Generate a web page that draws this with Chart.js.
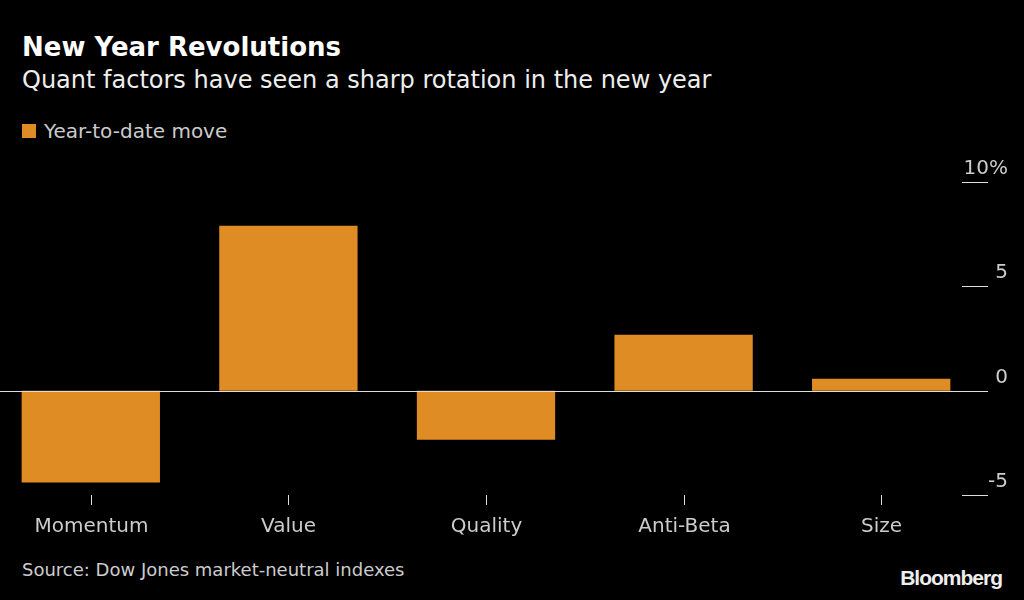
<!DOCTYPE html>
<html><head><meta charset="utf-8">
<script src="https://cdn.jsdelivr.net/npm/chart.js@4"></script>
<style>
body{margin:0;background:#000;width:1024px;height:600px;overflow:hidden;position:relative;font-family:"DejaVu Sans",sans-serif;color:#ddd}
.t{position:absolute;left:22px;white-space:nowrap}
#wrap{position:absolute;left:-8px;top:150px;width:1030px;height:400px}
</style></head><body>
<div class="t" style="top:32px;font-size:26px;font-weight:bold;color:#fff">New Year Revolutions</div>
<div class="t" style="top:66px;font-size:24px;color:#eee">Quant factors have seen a sharp rotation in the new year</div>
<div class="t" style="top:119px;font-size:20px;color:#ccc"><span style="display:inline-block;width:14px;height:14px;background:#e08c25;margin-right:8px"></span>Year-to-date move</div>
<div class="t" style="top:559px;font-size:18px;color:#ccc">Source: Dow Jones market-neutral indexes</div>
<div class="t" style="left:auto;right:22px;top:566px;font-size:21px;font-weight:bold;color:#eee;font-family:'Liberation Sans',sans-serif;letter-spacing:-1px">Bloomberg</div>
<div id="wrap"><canvas id="c"></canvas></div>
<script>
const categories = ['Momentum', 'Value', 'Quality', 'Anti-Beta', 'Size'];
const ytdMove = [-4.4, 7.9, -2.35, 2.68, 0.57];
const yTicks = [10, 5, 0, -5];
const yTickLabels = ['10%', '5', '0', '-5'];

// axis ticks and labels drawn by hand, Bloomberg style
const axisDraw = {
    id: 'axisDraw',
    afterDatasetsDraw(chart) {
        const ctx = chart.ctx, y = chart.scales.y, x = chart.scales.x, a = chart.chartArea;
        ctx.save();
        ctx.strokeStyle = '#ddd';
        ctx.lineWidth = 1;
        const zy = Math.round(y.getPixelForValue(0)) + 0.5;
        ctx.beginPath(); ctx.moveTo(a.left, zy); ctx.lineTo(a.right + 8, zy); ctx.stroke();
        ctx.font = '20px "DejaVu Sans"';
        ctx.fillStyle = '#ccc';
        ctx.textAlign = 'right';
        ctx.textBaseline = 'bottom';
        yTicks.forEach((v, i) => {
            const py = Math.round(y.getPixelForValue(v)) + 0.5;
            if (v !== 0) { ctx.beginPath(); ctx.moveTo(a.right - 18, py); ctx.lineTo(a.right + 8, py); ctx.stroke(); }
            ctx.fillText(yTickLabels[i], a.right + 28, py - 4);
        });
        ctx.textAlign = 'center';
        ctx.textBaseline = 'top';
        categories.forEach((c, i) => {
            const px = Math.round(x.getPixelForValue(i)) + 0.5;
            ctx.beginPath(); ctx.moveTo(px, a.bottom); ctx.lineTo(px, a.bottom + 10); ctx.stroke();
            ctx.fillText(c, px, a.bottom + 22);
        });
        ctx.restore();
    }
};

new Chart(document.getElementById('c'), {
    type: 'bar',
    data: {
        labels: categories,
        datasets: [{
            label: 'Year-to-date move',
            data: ytdMove,
            backgroundColor: '#e08c25',
            barPercentage: 0.7,
            categoryPercentage: 1
        }]
    },
    options: {
        responsive: true,
        maintainAspectRatio: false,
        animation: false,
        layout: { padding: { top: 32, bottom: 55, left: 0, right: 42 } },
        plugins: { legend: { display: false }, tooltip: { enabled: false } },
        scales: {
            x: { display: false },
            y: { display: false, min: -5, max: 10 }
        }
    },
    plugins: [axisDraw]
});
</script>
</body></html>
